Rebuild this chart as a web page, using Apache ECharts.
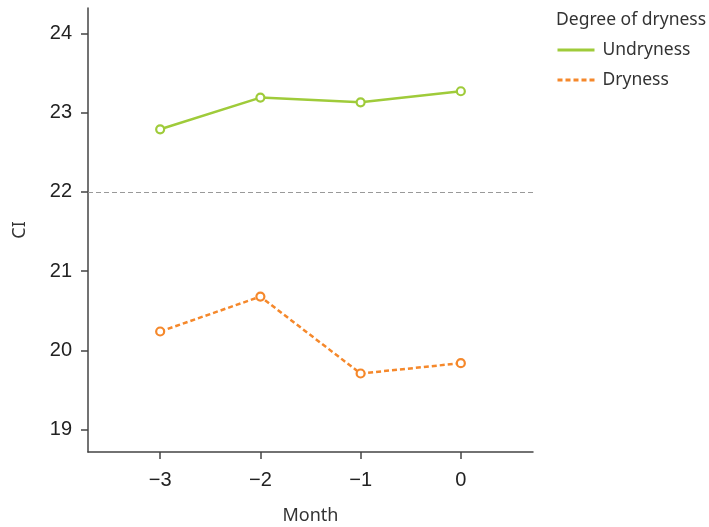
<!DOCTYPE html>
<html><head><meta charset="utf-8">
<script src="https://cdn.jsdelivr.net/npm/echarts@6/dist/echarts.min.js"></script>
<style>html,body{margin:0;padding:0;background:#fff}#c{width:709px;height:527px}</style>
</head><body><div id="c"></div>
<script>
var months = [-3, -2, -1, 0];
var undryness = [22.79, 23.19, 23.13, 23.27];
var dryness = [20.24, 20.68, 19.71, 19.84];
var yTicks = [19, 20, 21, 22, 23, 24];
var refLine = 22;

var green = '#9fcb3a', orange = '#f5882b';
var tickFont = 'Liberation Sans, Arial, sans-serif';
var textFont = 'Noto Sans, sans-serif';
function fmt(v){ return v < 0 ? '\u2212' + Math.abs(v) : String(v); }

var chart = echarts.init(document.getElementById('c'));
chart.setOption({
  animation: false,
  grid: {left: 88, right: 176, top: 8, bottom: 75, outerBoundsMode: 'none', containLabel: false},
  xAxis: {
    type: 'value', min: -3.72, max: 0.72,
    name: 'Month', nameLocation: 'middle', nameGap: 55,
    nameTextStyle: {fontFamily: textFont, fontSize: 18, color: '#333'},
    axisLine: {onZero: false, lineStyle: {color: '#444', width: 1.5}},
    axisTick: {show: true, length: 7, lineStyle: {color: '#444', width: 1.5}, customValues: months},
    axisLabel: {customValues: months, formatter: fmt, margin: 18, fontFamily: tickFont, fontSize: 20, color: '#222'},
    splitLine: {show: false}
  },
  yAxis: {
    type: 'value', min: 18.72, max: 24.32,
    name: 'CI', nameLocation: 'middle', nameGap: 59, nameRotate: 90,
    nameTextStyle: {fontFamily: textFont, fontSize: 18, color: '#333'},
    axisLine: {show: true, onZero: false, lineStyle: {color: '#444', width: 1.5}},
    axisTick: {show: true, length: 7, lineStyle: {color: '#444', width: 1.5}, customValues: yTicks},
    axisLabel: {customValues: yTicks, margin: 16, fontFamily: tickFont, fontSize: 20, color: '#222'},
    splitLine: {show: false}
  },
  legend: {
    orient: 'vertical', left: 556, top: 41, padding: 0, itemWidth: 37, itemHeight: 14, itemGap: 12,
    itemStyle: {opacity: 0},
    lineStyle: {width: 3},
    textStyle: {fontFamily: textFont, fontSize: 17.5, color: '#333', padding: [0,0,0,3]},
    data: ['Undryness', 'Dryness']
  },
  graphic: [{
    type: 'text', left: 556, top: 11,
    style: {text: 'Degree of dryness', font: '17.5px Noto Sans', fill: '#333'}
  }],
  series: [
    {
      name: 'Undryness', type: 'line',
      data: months.map(function(m,i){return [m, undryness[i]];}),
      symbol: 'circle', symbolSize: 8,
      itemStyle: {color: '#fff', borderColor: green, borderWidth: 2.2},
      lineStyle: {color: green, width: 2.5},
      markLine: {
        silent: true, symbol: 'none', label: {show: false},
        lineStyle: {color: '#999', type: [5,3], width: 1},
        data: [{yAxis: refLine}]
      }
    },
    {
      name: 'Dryness', type: 'line',
      data: months.map(function(m,i){return [m, dryness[i]];}),
      symbol: 'circle', symbolSize: 8,
      itemStyle: {color: '#fff', borderColor: orange, borderWidth: 2.2},
      lineStyle: {color: orange, width: 2.5, type: [5,3]}
    }
  ]
});
</script></body></html>
